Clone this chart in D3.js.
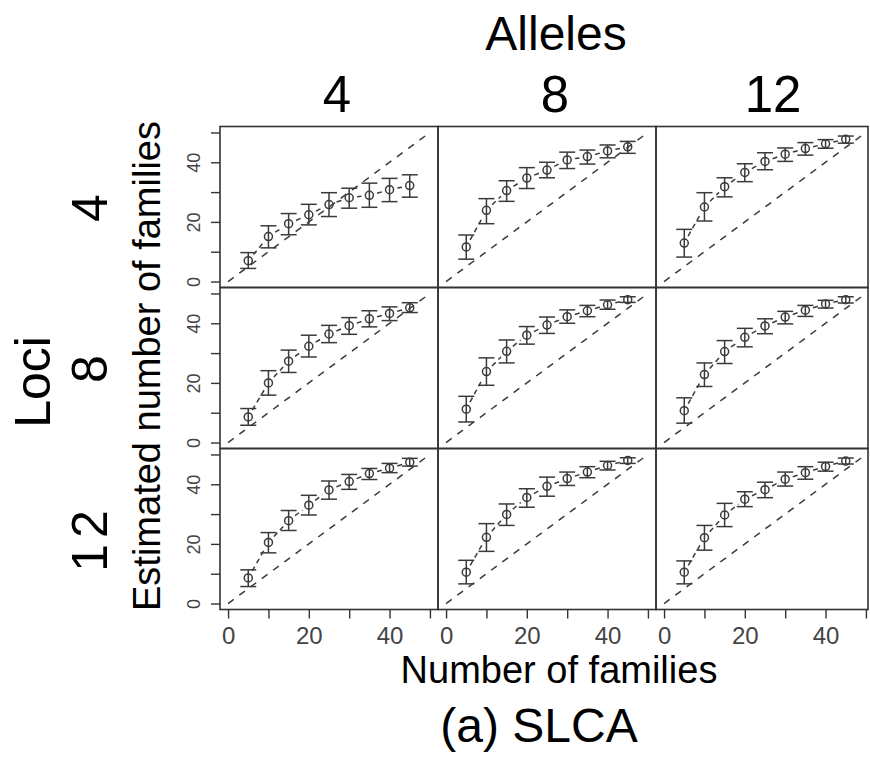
<!DOCTYPE html>
<html lang="en">
<head>
<meta charset="UTF-8">
<title>SLCA</title>
<script src="https://d3js.org/d3.v7.min.js"></script>
<style>
    body { margin: 0; background: #fff; }
    svg { display: block; font-family: "Liberation Sans", Arial, sans-serif; }
    .frame { fill: none; stroke: #333; stroke-width: 1.6; }
    .tick line { stroke: #333; stroke-width: 1.4; }
    .tick text { fill: #444; }
    .mark { stroke: #3a3a3a; stroke-width: 1.5; fill: none; }
</style>
</head>
<body>
<div id="chart"></div>
<script>
    // data
    const families = [5, 10, 15, 20, 25, 30, 35, 40, 45];
    const alleles = ["4", "8", "12"];
    const loci = ["4", "8", "12"];
    const ticks = [0, 10, 20, 30, 40, 50];
    const tickLabels = [0, 20, 40];

    // means[loci][alleles]
    const means = [
        [[7.0, 15.1, 19.4, 22.4, 25.8, 28.1, 28.9, 30.8, 32.2],
         [11.6, 23.9, 30.5, 34.7, 37.4, 40.8, 41.9, 43.8, 45.2],
         [12.9, 25.0, 31.8, 36.6, 40.3, 42.7, 44.6, 46.2, 47.7]],
        [[8.6, 20.0, 27.3, 32.3, 36.4, 39.2, 41.5, 43.3, 45.2],
         [11.2, 23.8, 30.6, 36.0, 39.4, 42.2, 44.2, 46.2, 47.9],
         [10.7, 22.8, 30.5, 35.3, 39.1, 42.1, 44.4, 46.5, 47.9]],
        [[8.6, 20.5, 27.8, 33.0, 38.1, 40.9, 43.6, 45.4, 47.4],
         [10.5, 22.2, 29.9, 35.6, 39.3, 41.9, 44.1, 46.3, 48.0],
         [10.5, 22.1, 29.7, 35.0, 38.2, 41.7, 43.9, 46.0, 47.8]]
    ];
    const lower = [
        [[4.4, 11.3, 15.7, 19.0, 21.8, 24.6, 24.9, 26.8, 28.3],
         [7.5, 19.4, 26.9, 31.2, 34.8, 37.9, 39.4, 41.5, 43.0],
         [8.2, 20.3, 28.4, 33.5, 37.5, 40.3, 42.4, 44.7, 46.4]],
        [[5.8, 15.9, 23.5, 28.7, 33.5, 36.3, 38.8, 40.9, 43.6],
         [6.9, 19.2, 26.7, 33.0, 36.6, 40.0, 42.2, 44.7, 47.0],
         [6.5, 18.8, 26.5, 32.1, 36.5, 39.8, 42.3, 45.1, 46.8]],
        [[5.7, 17.0, 24.5, 29.7, 35.0, 38.3, 41.6, 43.9, 46.1],
         [6.6, 17.5, 26.2, 32.3, 36.0, 39.6, 42.2, 44.8, 47.0],
         [6.6, 17.9, 25.8, 32.5, 35.5, 39.4, 41.7, 44.4, 46.8]]
    ];
    const upper = [
        [[9.7, 18.7, 22.8, 25.9, 29.8, 31.3, 33.0, 34.6, 35.8],
         [15.6, 27.8, 33.8, 38.2, 40.0, 43.4, 44.1, 45.8, 47.0],
         [17.5, 29.8, 34.8, 39.5, 43.2, 44.8, 46.6, 47.6, 48.8]],
        [[11.4, 24.1, 31.0, 36.0, 39.3, 41.9, 44.2, 45.5, 46.9],
         [15.5, 28.4, 34.4, 38.9, 42.1, 44.5, 46.0, 47.8, 48.9],
         [15.0, 26.7, 34.2, 38.3, 41.5, 44.0, 46.0, 47.7, 48.9]],
        [[11.3, 23.8, 31.2, 36.3, 41.1, 43.3, 45.3, 47.0, 48.7],
         [14.5, 26.8, 33.4, 38.5, 42.4, 44.1, 45.9, 47.7, 48.9],
         [14.3, 26.2, 33.6, 37.5, 40.7, 44.1, 45.9, 47.4, 48.8]]
    ];

    const W = 870, H = 758;
    const gridLeft = 220, gridTop = 126.5, panelW = 218, panelH = 161, rightEdge = 868;

    const svg = d3.select("#chart").append("svg")
        .attr("width", W).attr("height", H);

    svg.append("clipPath").attr("id", "clip")
        .append("rect").attr("x", 0).attr("y", 0).attr("width", rightEdge).attr("height", H);

    const colLeft = c => gridLeft + c * panelW;
    const rowTop = r => gridTop + r * panelH;

    loci.forEach(function(lo, r) {
        alleles.forEach(function(al, c) {
            const x = d3.scaleLinear().domain([-2, 52]).range([colLeft(c), colLeft(c) + panelW]);
            const y = d3.scaleLinear().domain([-2, 52]).range([rowTop(r) + panelH, rowTop(r)]);
            const g = svg.append("g").attr("clip-path", "url(#clip)");

            // reference line y = x
            g.append("line").attr("class", "mark")
                .attr("x1", x(0)).attr("y1", y(0)).attr("x2", x(50)).attr("y2", y(50))
                .attr("stroke-width", 1.3)
                .attr("stroke-dasharray", "7,7");

            const m = means[r][c], lw = lower[r][c], up = upper[r][c];

            // connecting line, with gaps round the points
            for (let i = 0; i < families.length - 1; i++) {
                const x1 = x(families[i]), y1 = y(m[i]);
                const x2 = x(families[i + 1]), y2 = y(m[i + 1]);
                const len = Math.hypot(x2 - x1, y2 - y1), gap = 8;
                if (len <= 2 * gap) continue;
                const ux = (x2 - x1) / len, uy = (y2 - y1) / len;
                g.append("line").attr("class", "mark")
                    .attr("stroke-width", 1.3)
                    .attr("stroke-dasharray", "5,4")
                    .attr("x1", x1 + ux * gap).attr("y1", y1 + uy * gap)
                    .attr("x2", x2 - ux * gap).attr("y2", y2 - uy * gap);
            }

            // error bars
            const bars = g.selectAll(".bar").data(families).enter().append("g");
            bars.append("line").attr("class", "mark")
                .attr("x1", d => x(d)).attr("x2", d => x(d))
                .attr("y1", (d, i) => y(lw[i])).attr("y2", (d, i) => y(up[i]));
            bars.append("line").attr("class", "mark")
                .attr("x1", d => x(d) - 8).attr("x2", d => x(d) + 8)
                .attr("y1", (d, i) => y(up[i])).attr("y2", (d, i) => y(up[i]));
            bars.append("line").attr("class", "mark")
                .attr("x1", d => x(d) - 8).attr("x2", d => x(d) + 8)
                .attr("y1", (d, i) => y(lw[i])).attr("y2", (d, i) => y(lw[i]));
            bars.append("circle").attr("class", "mark")
                .attr("cx", d => x(d)).attr("cy", (d, i) => y(m[i])).attr("r", 4);

            // panel frame
            svg.append("rect").attr("class", "frame")
                .attr("x", colLeft(c)).attr("y", rowTop(r))
                .attr("width", Math.min(panelW, rightEdge - colLeft(c))).attr("height", panelH);

            // axes on the outer panels
            if (c === 0) {
                const ay = svg.append("g")
                    .attr("transform", "translate(" + colLeft(c) + ",0)")
                    .call(d3.axisLeft(y).tickValues(ticks).tickSize(9)
                        .tickFormat(d => tickLabels.includes(d) ? d : ""));
                ay.select(".domain").remove();
                ay.selectAll("text")
                    .attr("transform", "rotate(-90)")
                    .attr("x", 0).attr("y", -20).attr("dy", 0)
                    .attr("text-anchor", "middle")
                    .attr("font-size", "18px");
            }
            if (r === loci.length - 1) {
                const ax = svg.append("g")
                    .attr("transform", "translate(0," + (rowTop(r) + panelH) + ")")
                    .call(d3.axisBottom(x).tickValues(ticks).tickSize(9)
                        .tickFormat(d => tickLabels.includes(d) ? d : ""));
                ax.select(".domain").remove();
                ax.selectAll("text")
                    .attr("y", 34).attr("dy", 0)
                    .attr("font-size", "24px");
            }
        });
    });

    // strip labels
    svg.append("text")
        .attr("x", 556).attr("y", 50)
        .attr("text-anchor", "middle").attr("font-size", "48px")
        .text("Alleles");

    svg.selectAll(".collab").data(alleles).enter().append("text")
        .attr("x", (d, i) => colLeft(i) + 117).attr("y", 112)
        .attr("text-anchor", "middle").attr("font-size", "51px")
        .text(d => d);

    svg.append("text")
        .attr("transform", "translate(50,382) rotate(-90)")
        .attr("text-anchor", "middle").attr("font-size", "50px")
        .text("Loci");

    svg.selectAll(".rowlab").data(loci).enter().append("text")
        .attr("transform", (d, i) => "translate(107," + (rowTop(i) + panelH / 2 + (i === 2 ? 9 : 1)) + ") rotate(-90)")
        .attr("text-anchor", "middle").attr("font-size", "50px")
        .attr("letter-spacing", (d, i) => i === 2 ? "6px" : null)
        .text(d => d);

    svg.append("text")
        .attr("transform", "translate(160,366) rotate(-90)")
        .attr("text-anchor", "middle").attr("font-size", "38px")
        .text("Estimated number of families");

    svg.append("text")
        .attr("x", 559).attr("y", 683)
        .attr("text-anchor", "middle").attr("font-size", "38px")
        .text("Number of families");

    svg.append("text")
        .attr("x", 539).attr("y", 742)
        .attr("text-anchor", "middle").attr("font-size", "48px")
        .text("(a) SLCA");
</script>
</body>
</html>
